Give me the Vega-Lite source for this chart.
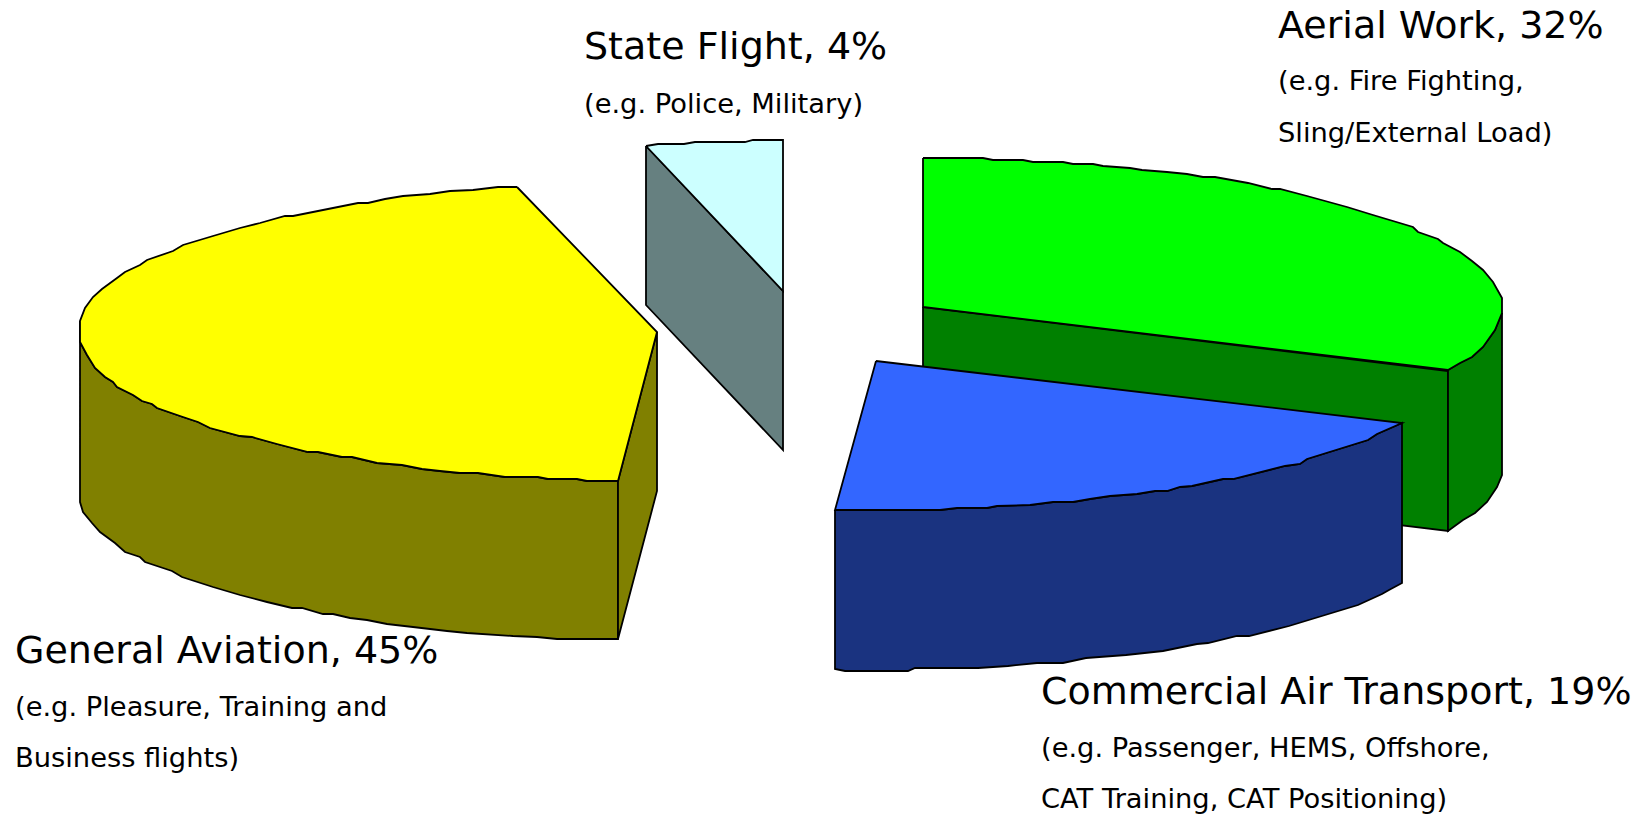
{"$schema":"https://vega.github.io/schema/vega-lite/v6.json","width":1650,"height":816,"autosize":{"type":"fit","contains":"padding"},"background":"white","view":{"stroke":null},"padding":0,
"datasets":{
"faces":[
{"f":"GA side","i":1,"x":80,"y":321},{"f":"GA side","i":2,"x":80,"y":342},{"f":"GA side","i":3,"x":87,"y":355},{"f":"GA side","i":4,"x":95,"y":368},{"f":"GA side","i":5,"x":105,"y":377},{"f":"GA side","i":6,"x":113,"y":382},{"f":"GA side","i":7,"x":117,"y":387},{"f":"GA side","i":8,"x":133,"y":395},{"f":"GA side","i":9,"x":142,"y":401},{"f":"GA side","i":10,"x":152,"y":404},{"f":"GA side","i":11,"x":157,"y":408},{"f":"GA side","i":12,"x":183,"y":417},{"f":"GA side","i":13,"x":198,"y":422},{"f":"GA side","i":14,"x":210,"y":428},{"f":"GA side","i":15,"x":240,"y":436},{"f":"GA side","i":16,"x":252,"y":437},{"f":"GA side","i":17,"x":277,"y":444},{"f":"GA side","i":18,"x":308,"y":452},{"f":"GA side","i":19,"x":318,"y":452},{"f":"GA side","i":20,"x":342,"y":457},{"f":"GA side","i":21,"x":352,"y":457},{"f":"GA side","i":22,"x":377,"y":463},{"f":"GA side","i":23,"x":402,"y":465},{"f":"GA side","i":24,"x":422,"y":469},{"f":"GA side","i":25,"x":440,"y":471},{"f":"GA side","i":26,"x":460,"y":473},{"f":"GA side","i":27,"x":478,"y":473},{"f":"GA side","i":28,"x":505,"y":477},{"f":"GA side","i":29,"x":538,"y":477},{"f":"GA side","i":30,"x":548,"y":479},{"f":"GA side","i":31,"x":577,"y":479},{"f":"GA side","i":32,"x":587,"y":481},{"f":"GA side","i":33,"x":618,"y":481},{"f":"GA side","i":34,"x":618,"y":639},{"f":"GA side","i":35,"x":557,"y":639},{"f":"GA side","i":36,"x":537,"y":637},{"f":"GA side","i":37,"x":513,"y":636},{"f":"GA side","i":38,"x":467,"y":633},{"f":"GA side","i":39,"x":447,"y":631},{"f":"GA side","i":40,"x":413,"y":627},{"f":"GA side","i":41,"x":387,"y":624},{"f":"GA side","i":42,"x":367,"y":620},{"f":"GA side","i":43,"x":350,"y":618},{"f":"GA side","i":44,"x":333,"y":614},{"f":"GA side","i":45,"x":323,"y":614},{"f":"GA side","i":46,"x":302,"y":608},{"f":"GA side","i":47,"x":292,"y":608},{"f":"GA side","i":48,"x":267,"y":602},{"f":"GA side","i":49,"x":240,"y":595},{"f":"GA side","i":50,"x":213,"y":587},{"f":"GA side","i":51,"x":182,"y":577},{"f":"GA side","i":52,"x":172,"y":571},{"f":"GA side","i":53,"x":145,"y":562},{"f":"GA side","i":54,"x":140,"y":557},{"f":"GA side","i":55,"x":125,"y":552},{"f":"GA side","i":56,"x":115,"y":543},{"f":"GA side","i":57,"x":100,"y":532},{"f":"GA side","i":58,"x":92,"y":523},{"f":"GA side","i":59,"x":83,"y":512},{"f":"GA side","i":60,"x":80,"y":502},{"f":"GA side","i":61,"x":80,"y":321},
{"f":"GA edge","i":1,"x":618,"y":481},{"f":"GA edge","i":2,"x":657,"y":332},{"f":"GA edge","i":3,"x":657,"y":491},{"f":"GA edge","i":4,"x":618,"y":639},{"f":"GA edge","i":5,"x":618,"y":481},
{"f":"GA top","i":1,"x":517,"y":187},{"f":"GA top","i":2,"x":498,"y":187},{"f":"GA top","i":3,"x":473,"y":190},{"f":"GA top","i":4,"x":450,"y":191},{"f":"GA top","i":5,"x":430,"y":194},{"f":"GA top","i":6,"x":403,"y":196},{"f":"GA top","i":7,"x":385,"y":199},{"f":"GA top","i":8,"x":368,"y":203},{"f":"GA top","i":9,"x":358,"y":203},{"f":"GA top","i":10,"x":333,"y":208},{"f":"GA top","i":11,"x":313,"y":212},{"f":"GA top","i":12,"x":293,"y":216},{"f":"GA top","i":13,"x":285,"y":216},{"f":"GA top","i":14,"x":260,"y":223},{"f":"GA top","i":15,"x":240,"y":228},{"f":"GA top","i":16,"x":213,"y":236},{"f":"GA top","i":17,"x":183,"y":245},{"f":"GA top","i":18,"x":173,"y":251},{"f":"GA top","i":19,"x":147,"y":260},{"f":"GA top","i":20,"x":140,"y":265},{"f":"GA top","i":21,"x":125,"y":272},{"f":"GA top","i":22,"x":117,"y":278},{"f":"GA top","i":23,"x":102,"y":289},{"f":"GA top","i":24,"x":93,"y":297},{"f":"GA top","i":25,"x":85,"y":308},{"f":"GA top","i":26,"x":80,"y":321},{"f":"GA top","i":27,"x":80,"y":342},{"f":"GA top","i":28,"x":87,"y":355},{"f":"GA top","i":29,"x":95,"y":368},{"f":"GA top","i":30,"x":105,"y":377},{"f":"GA top","i":31,"x":113,"y":382},{"f":"GA top","i":32,"x":117,"y":387},{"f":"GA top","i":33,"x":133,"y":395},{"f":"GA top","i":34,"x":142,"y":401},{"f":"GA top","i":35,"x":152,"y":404},{"f":"GA top","i":36,"x":157,"y":408},{"f":"GA top","i":37,"x":183,"y":417},{"f":"GA top","i":38,"x":198,"y":422},{"f":"GA top","i":39,"x":210,"y":428},{"f":"GA top","i":40,"x":240,"y":436},{"f":"GA top","i":41,"x":252,"y":437},{"f":"GA top","i":42,"x":277,"y":444},{"f":"GA top","i":43,"x":308,"y":452},{"f":"GA top","i":44,"x":318,"y":452},{"f":"GA top","i":45,"x":342,"y":457},{"f":"GA top","i":46,"x":352,"y":457},{"f":"GA top","i":47,"x":377,"y":463},{"f":"GA top","i":48,"x":402,"y":465},{"f":"GA top","i":49,"x":422,"y":469},{"f":"GA top","i":50,"x":440,"y":471},{"f":"GA top","i":51,"x":460,"y":473},{"f":"GA top","i":52,"x":478,"y":473},{"f":"GA top","i":53,"x":505,"y":477},{"f":"GA top","i":54,"x":538,"y":477},{"f":"GA top","i":55,"x":548,"y":479},{"f":"GA top","i":56,"x":577,"y":479},{"f":"GA top","i":57,"x":587,"y":481},{"f":"GA top","i":58,"x":618,"y":481},{"f":"GA top","i":59,"x":657,"y":332},{"f":"GA top","i":60,"x":517,"y":187},
{"f":"SF side","i":1,"x":646,"y":146},{"f":"SF side","i":2,"x":783,"y":291},{"f":"SF side","i":3,"x":783,"y":450},{"f":"SF side","i":4,"x":646,"y":305},{"f":"SF side","i":5,"x":646,"y":146},
{"f":"SF top","i":1,"x":646,"y":146},{"f":"SF top","i":2,"x":658,"y":144},{"f":"SF top","i":3,"x":684,"y":144},{"f":"SF top","i":4,"x":695,"y":142},{"f":"SF top","i":5,"x":745,"y":142},{"f":"SF top","i":6,"x":753,"y":140},{"f":"SF top","i":7,"x":783,"y":140},{"f":"SF top","i":8,"x":783,"y":291},{"f":"SF top","i":9,"x":646,"y":146},
{"f":"AW side","i":1,"x":923,"y":307},{"f":"AW side","i":2,"x":1448,"y":371},{"f":"AW side","i":3,"x":1448,"y":531},{"f":"AW side","i":4,"x":923,"y":467},{"f":"AW side","i":5,"x":923,"y":307},
{"f":"AW edge","i":1,"x":1448,"y":370},{"f":"AW edge","i":2,"x":1460,"y":363},{"f":"AW edge","i":3,"x":1472,"y":357},{"f":"AW edge","i":4,"x":1483,"y":347},{"f":"AW edge","i":5,"x":1495,"y":330},{"f":"AW edge","i":6,"x":1502,"y":313},{"f":"AW edge","i":7,"x":1502,"y":475},{"f":"AW edge","i":8,"x":1497,"y":487},{"f":"AW edge","i":9,"x":1487,"y":502},{"f":"AW edge","i":10,"x":1475,"y":513},{"f":"AW edge","i":11,"x":1463,"y":520},{"f":"AW edge","i":12,"x":1448,"y":531},{"f":"AW edge","i":13,"x":1448,"y":370},
{"f":"AW top","i":1,"x":923,"y":158},{"f":"AW top","i":2,"x":983,"y":158},{"f":"AW top","i":3,"x":993,"y":160},{"f":"AW top","i":4,"x":1023,"y":160},{"f":"AW top","i":5,"x":1033,"y":162},{"f":"AW top","i":6,"x":1063,"y":162},{"f":"AW top","i":7,"x":1073,"y":164},{"f":"AW top","i":8,"x":1093,"y":164},{"f":"AW top","i":9,"x":1103,"y":166},{"f":"AW top","i":10,"x":1130,"y":168},{"f":"AW top","i":11,"x":1142,"y":170},{"f":"AW top","i":12,"x":1167,"y":172},{"f":"AW top","i":13,"x":1187,"y":174},{"f":"AW top","i":14,"x":1203,"y":177},{"f":"AW top","i":15,"x":1215,"y":177},{"f":"AW top","i":16,"x":1248,"y":183},{"f":"AW top","i":17,"x":1272,"y":189},{"f":"AW top","i":18,"x":1280,"y":189},{"f":"AW top","i":19,"x":1307,"y":196},{"f":"AW top","i":20,"x":1347,"y":207},{"f":"AW top","i":21,"x":1373,"y":215},{"f":"AW top","i":22,"x":1413,"y":227},{"f":"AW top","i":23,"x":1418,"y":232},{"f":"AW top","i":24,"x":1438,"y":239},{"f":"AW top","i":25,"x":1443,"y":243},{"f":"AW top","i":26,"x":1460,"y":252},{"f":"AW top","i":27,"x":1472,"y":261},{"f":"AW top","i":28,"x":1483,"y":270},{"f":"AW top","i":29,"x":1493,"y":282},{"f":"AW top","i":30,"x":1502,"y":298},{"f":"AW top","i":31,"x":1502,"y":313},{"f":"AW top","i":32,"x":1495,"y":330},{"f":"AW top","i":33,"x":1483,"y":347},{"f":"AW top","i":34,"x":1472,"y":357},{"f":"AW top","i":35,"x":1460,"y":363},{"f":"AW top","i":36,"x":1448,"y":370},{"f":"AW top","i":37,"x":923,"y":307},{"f":"AW top","i":38,"x":923,"y":158},
{"f":"CAT side","i":1,"x":835,"y":510},{"f":"CAT side","i":2,"x":940,"y":510},{"f":"CAT side","i":3,"x":957,"y":508},{"f":"CAT side","i":4,"x":987,"y":508},{"f":"CAT side","i":5,"x":997,"y":506},{"f":"CAT side","i":6,"x":1030,"y":505},{"f":"CAT side","i":7,"x":1053,"y":502},{"f":"CAT side","i":8,"x":1073,"y":502},{"f":"CAT side","i":9,"x":1090,"y":499},{"f":"CAT side","i":10,"x":1110,"y":496},{"f":"CAT side","i":11,"x":1137,"y":494},{"f":"CAT side","i":12,"x":1155,"y":491},{"f":"CAT side","i":13,"x":1167,"y":491},{"f":"CAT side","i":14,"x":1180,"y":487},{"f":"CAT side","i":15,"x":1192,"y":486},{"f":"CAT side","i":16,"x":1223,"y":479},{"f":"CAT side","i":17,"x":1233,"y":479},{"f":"CAT side","i":18,"x":1285,"y":466},{"f":"CAT side","i":19,"x":1300,"y":464},{"f":"CAT side","i":20,"x":1307,"y":459},{"f":"CAT side","i":21,"x":1368,"y":440},{"f":"CAT side","i":22,"x":1377,"y":434},{"f":"CAT side","i":23,"x":1402,"y":423},{"f":"CAT side","i":24,"x":1402,"y":583},{"f":"CAT side","i":25,"x":1389,"y":590},{"f":"CAT side","i":26,"x":1382,"y":594},{"f":"CAT side","i":27,"x":1358,"y":605},{"f":"CAT side","i":28,"x":1289,"y":626},{"f":"CAT side","i":29,"x":1249,"y":636},{"f":"CAT side","i":30,"x":1237,"y":636},{"f":"CAT side","i":31,"x":1208,"y":643},{"f":"CAT side","i":32,"x":1197,"y":644},{"f":"CAT side","i":33,"x":1163,"y":651},{"f":"CAT side","i":34,"x":1126,"y":655},{"f":"CAT side","i":35,"x":1086,"y":658},{"f":"CAT side","i":36,"x":1063,"y":663},{"f":"CAT side","i":37,"x":1037,"y":663},{"f":"CAT side","i":38,"x":1008,"y":666},{"f":"CAT side","i":39,"x":978,"y":668},{"f":"CAT side","i":40,"x":915,"y":668},{"f":"CAT side","i":41,"x":908,"y":671},{"f":"CAT side","i":42,"x":845,"y":671},{"f":"CAT side","i":43,"x":835,"y":669},{"f":"CAT side","i":44,"x":835,"y":510},
{"f":"CAT top","i":1,"x":876,"y":361},{"f":"CAT top","i":2,"x":1402,"y":423},{"f":"CAT top","i":3,"x":1377,"y":434},{"f":"CAT top","i":4,"x":1368,"y":440},{"f":"CAT top","i":5,"x":1307,"y":459},{"f":"CAT top","i":6,"x":1300,"y":464},{"f":"CAT top","i":7,"x":1285,"y":466},{"f":"CAT top","i":8,"x":1233,"y":479},{"f":"CAT top","i":9,"x":1223,"y":479},{"f":"CAT top","i":10,"x":1192,"y":486},{"f":"CAT top","i":11,"x":1180,"y":487},{"f":"CAT top","i":12,"x":1167,"y":491},{"f":"CAT top","i":13,"x":1155,"y":491},{"f":"CAT top","i":14,"x":1137,"y":494},{"f":"CAT top","i":15,"x":1110,"y":496},{"f":"CAT top","i":16,"x":1090,"y":499},{"f":"CAT top","i":17,"x":1073,"y":502},{"f":"CAT top","i":18,"x":1053,"y":502},{"f":"CAT top","i":19,"x":1030,"y":505},{"f":"CAT top","i":20,"x":997,"y":506},{"f":"CAT top","i":21,"x":987,"y":508},{"f":"CAT top","i":22,"x":957,"y":508},{"f":"CAT top","i":23,"x":940,"y":510},{"f":"CAT top","i":24,"x":835,"y":510},{"f":"CAT top","i":25,"x":876,"y":361}
],
"titles":[
{"t":"State Flight, 4%","x":584,"y":59},{"t":"Aerial Work, 32%","x":1278,"y":38},{"t":"General Aviation, 45%","x":15,"y":663},{"t":"Commercial Air Transport, 19%","x":1041,"y":704}],
"subs":[
{"t":"(e.g. Police, Military)","x":584,"y":113},{"t":"(e.g. Fire Fighting,","x":1278,"y":90},{"t":"Sling/External Load)","x":1278,"y":142},{"t":"(e.g. Pleasure, Training and","x":15,"y":716},{"t":"Business flights)","x":15,"y":767},{"t":"(e.g. Passenger, HEMS, Offshore,","x":1041,"y":757},{"t":"CAT Training, CAT Positioning)","x":1041,"y":808}]
},
"encoding":{
"x":{"field":"x","type":"quantitative","scale":{"domain":[0,1650]},"axis":null},
"y":{"field":"y","type":"quantitative","scale":{"domain":[816,0]},"axis":null}},
"layer":[
{"data":{"name":"faces"},"mark":{"type":"line","stroke":"black","strokeWidth":1.8,"strokeJoin":"miter"},
"encoding":{"fill":{"field":"f","type":"nominal","legend":null,"scale":{"domain":["GA side","GA edge","GA top","SF side","SF top","AW side","AW edge","AW top","CAT side","CAT top"],"range":["#808000","#808000","#FFFF00","#668080","#CCFFFF","#008000","#008000","#00FF00","#1A3380","#3366FF"]}},"order":{"field":"i","type":"quantitative"}}},
{"data":{"name":"titles"},"mark":{"type":"text","align":"left","baseline":"alphabetic","font":"DejaVu Sans","fontSize":38,"color":"black"},"encoding":{"text":{"field":"t","type":"nominal"}}},
{"data":{"name":"subs"},"mark":{"type":"text","align":"left","baseline":"alphabetic","font":"DejaVu Sans","fontSize":27.3,"color":"black"},"encoding":{"text":{"field":"t","type":"nominal"}}}
]}
